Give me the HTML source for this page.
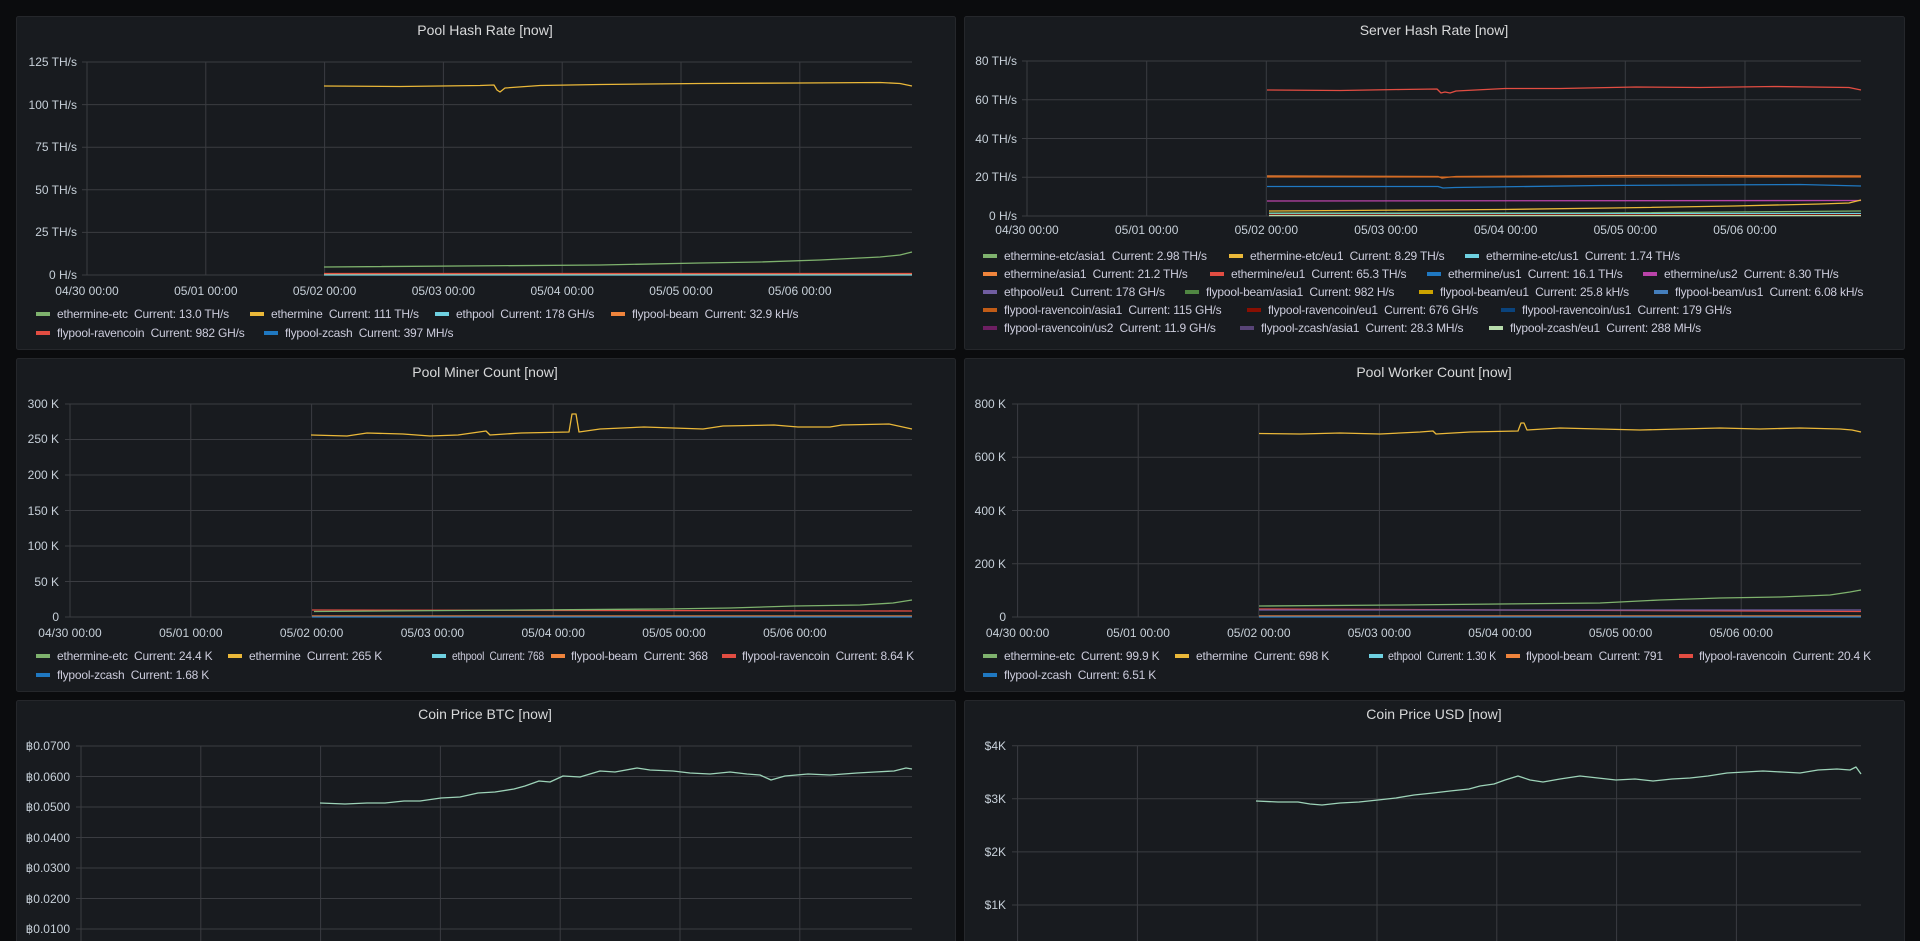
<!DOCTYPE html>
<html><head><meta charset="utf-8"><style>
html,body{margin:0;padding:0;background:#0b0c0e;width:1920px;height:941px;overflow:hidden}
svg{display:block;font-family:"Liberation Sans",Arial,sans-serif}
text{white-space:pre}
.t{fill:#d8d9da;font-size:14px;text-anchor:middle}
.ax{fill:#c7d0d9;font-size:12px}
.yl{text-anchor:end}
.xl{text-anchor:middle}
.lg{fill:#ccccdc;font-size:12px;letter-spacing:-0.2px}
.g{stroke:#3a3c41;stroke-width:1;fill:none}
.s{fill:none;stroke-width:1.3;stroke-linejoin:round}
</style></head><body>
<svg width="1920" height="941" viewBox="0 0 1920 941" xml:space="preserve">
<g fill="#181b1f" stroke="#25272b">
<rect x="16.5" y="16.5" width="939" height="333" rx="2"/>
<rect x="964.5" y="16.5" width="940" height="333" rx="2"/>
<rect x="16.5" y="358.5" width="939" height="333" rx="2"/>
<rect x="964.5" y="358.5" width="940" height="333" rx="2"/>
<rect x="16.5" y="700.5" width="939" height="260" rx="2"/>
<rect x="964.5" y="700.5" width="940" height="260" rx="2"/>
</g>
<text class="t" x="485" y="35">Pool Hash Rate [now]</text>
<text class="t" x="1434" y="35">Server Hash Rate [now]</text>
<text class="t" x="485" y="377">Pool Miner Count [now]</text>
<text class="t" x="1434" y="377">Pool Worker Count [now]</text>
<text class="t" x="485" y="719">Coin Price BTC [now]</text>
<text class="t" x="1434" y="719">Coin Price USD [now]</text>

<!-- Panel 1 -->
<g class="g">
<path d="M82 62H912M82 104.6H912M82 147.2H912M82 189.8H912M82 232.4H912M82 275H912"/>
<path d="M87 62V275M205.8 62V275M324.6 62V275M443.4 62V275M562.2 62V275M681 62V275M799.8 62V275"/>
</g>
<g class="ax yl">
<text x="77" y="66">125 TH/s</text><text x="77" y="109">100 TH/s</text><text x="77" y="151">75 TH/s</text>
<text x="77" y="194">50 TH/s</text><text x="77" y="236">25 TH/s</text><text x="77" y="279">0 H/s</text>
</g>
<g class="ax xl">
<text x="87" y="295">04/30 00:00</text><text x="205.8" y="295">05/01 00:00</text><text x="324.6" y="295">05/02 00:00</text>
<text x="443.4" y="295">05/03 00:00</text><text x="562.2" y="295">05/04 00:00</text><text x="681" y="295">05/05 00:00</text><text x="799.8" y="295">05/06 00:00</text>
</g>
<path class="s" stroke="#EAB839" d="M324 86L400 86.5L480 85.5L494 85L497 90L500 92L505 88L540 85.5L600 84.5L700 83.5L800 83L880 82.5L900 83.5L912 86"/>
<path class="s" stroke="#7EB26D" d="M324 267L600 265L700 263L760 262L820 260L880 257L900 255L912 252"/>
<path class="s" stroke="#E24D42" d="M324 273.5H912"/>
<path class="s" stroke="#EF843C" d="M324 274.5H912"/>
<path class="s" stroke="#6ED0E0" d="M324 275H912"/>
<g class="lg">
<rect x="36" y="312" width="14" height="4" fill="#7EB26D"/><text x="57" y="318">ethermine-etc  Current: 13.0 TH/s</text>
<rect x="250" y="312" width="14" height="4" fill="#EAB839"/><text x="271" y="318">ethermine  Current: 111 TH/s</text>
<rect x="435" y="312" width="14" height="4" fill="#6ED0E0"/><text x="456" y="318">ethpool  Current: 178 GH/s</text>
<rect x="611" y="312" width="14" height="4" fill="#EF843C"/><text x="632" y="318">flypool-beam  Current: 32.9 kH/s</text>
<rect x="36" y="331" width="14" height="4" fill="#E24D42"/><text x="57" y="337">flypool-ravencoin  Current: 982 GH/s</text>
<rect x="264" y="331" width="14" height="4" fill="#1F78C1"/><text x="285" y="337">flypool-zcash  Current: 397 MH/s</text>
</g>

<!-- Panel 2 -->
<g class="g">
<path d="M1022 61H1861M1022 99.75H1861M1022 138.5H1861M1022 177.25H1861M1022 216H1861"/>
<path d="M1027 61V216M1146.7 61V216M1266.3 61V216M1386 61V216M1505.7 61V216M1625.3 61V216M1745 61V216"/>
</g>
<g class="ax yl">
<text x="1017" y="65">80 TH/s</text><text x="1017" y="104">60 TH/s</text><text x="1017" y="143">40 TH/s</text>
<text x="1017" y="181">20 TH/s</text><text x="1017" y="220">0 H/s</text>
</g>
<g class="ax xl">
<text x="1027" y="234">04/30 00:00</text><text x="1146.7" y="234">05/01 00:00</text><text x="1266.3" y="234">05/02 00:00</text>
<text x="1386" y="234">05/03 00:00</text><text x="1505.7" y="234">05/04 00:00</text><text x="1625.3" y="234">05/05 00:00</text><text x="1745" y="234">05/06 00:00</text>
</g>
<path class="s" stroke="#E24D42" d="M1267 90L1340 90.5L1400 89.5L1437 89L1441 93L1445 92L1450 93L1456 91L1505 88.5L1560 88.5L1636 87L1700 87.5L1774 86.5L1849 87.5L1861 90"/>
<path class="s" stroke="#EF843C" d="M1267 176L1438 176.5L1442 178L1450 177L1456 176.5L1636 175.5L1861 176"/>
<path class="s" stroke="#C15C17" d="M1267 177L1861 177"/>
<path class="s" stroke="#1F78C1" d="M1267 186.5L1438 186.5L1443 188L1455 187.5L1600 185.5L1700 185L1800 184.5L1861 186"/>
<path class="s" stroke="#BA43A9" d="M1267 201L1861 200.5"/>
<path class="s" stroke="#EAB839" d="M1269 211L1500 209.5L1612 208L1734 206L1820 204L1849 203L1861 200"/>
<path class="s" stroke="#7EB26D" d="M1269 213L1600 213L1861 211"/>
<path class="s" stroke="#6ED0E0" d="M1269 214L1861 213.5"/>
<path class="s" stroke="#890F02" d="M1269 214.8L1861 214.8"/>
<path class="s" stroke="#B7DBAB" d="M1269 215.6L1861 215.6"/>
<g class="lg">
<rect x="983" y="254" width="14" height="4" fill="#7EB26D"/><text x="1004" y="260">ethermine-etc/asia1  Current: 2.98 TH/s</text>
<rect x="1229" y="254" width="14" height="4" fill="#EAB839"/><text x="1250" y="260">ethermine-etc/eu1  Current: 8.29 TH/s</text>
<rect x="1465" y="254" width="14" height="4" fill="#6ED0E0"/><text x="1486" y="260">ethermine-etc/us1  Current: 1.74 TH/s</text>
<rect x="983" y="272" width="14" height="4" fill="#EF843C"/><text x="1004" y="278">ethermine/asia1  Current: 21.2 TH/s</text>
<rect x="1210" y="272" width="14" height="4" fill="#E24D42"/><text x="1231" y="278">ethermine/eu1  Current: 65.3 TH/s</text>
<rect x="1427" y="272" width="14" height="4" fill="#1F78C1"/><text x="1448" y="278">ethermine/us1  Current: 16.1 TH/s</text>
<rect x="1643" y="272" width="14" height="4" fill="#BA43A9"/><text x="1664" y="278">ethermine/us2  Current: 8.30 TH/s</text>
<rect x="983" y="290" width="14" height="4" fill="#705DA0"/><text x="1004" y="296">ethpool/eu1  Current: 178 GH/s</text>
<rect x="1185" y="290" width="14" height="4" fill="#508642"/><text x="1206" y="296">flypool-beam/asia1  Current: 982 H/s</text>
<rect x="1419" y="290" width="14" height="4" fill="#CCA300"/><text x="1440" y="296">flypool-beam/eu1  Current: 25.8 kH/s</text>
<rect x="1654" y="290" width="14" height="4" fill="#447EBC"/><text x="1675" y="296">flypool-beam/us1  Current: 6.08 kH/s</text>
<rect x="983" y="308" width="14" height="4" fill="#C15C17"/><text x="1004" y="314">flypool-ravencoin/asia1  Current: 115 GH/s</text>
<rect x="1247" y="308" width="14" height="4" fill="#890F02"/><text x="1268" y="314">flypool-ravencoin/eu1  Current: 676 GH/s</text>
<rect x="1501" y="308" width="14" height="4" fill="#0A437C"/><text x="1522" y="314">flypool-ravencoin/us1  Current: 179 GH/s</text>
<rect x="983" y="326" width="14" height="4" fill="#6D1F62"/><text x="1004" y="332">flypool-ravencoin/us2  Current: 11.9 GH/s</text>
<rect x="1240" y="326" width="14" height="4" fill="#584477"/><text x="1261" y="332">flypool-zcash/asia1  Current: 28.3 MH/s</text>
<rect x="1489" y="326" width="14" height="4" fill="#B7DBAB"/><text x="1510" y="332">flypool-zcash/eu1  Current: 288 MH/s</text>
</g>

<!-- Panel 3 -->
<g class="g">
<path d="M65 404H912M65 439.5H912M65 475H912M65 510.5H912M65 546H912M65 581.5H912M65 617H912"/>
<path d="M70 404V617M190.8 404V617M311.6 404V617M432.4 404V617M553.2 404V617M674 404V617M794.8 404V617"/>
</g>
<g class="ax yl">
<text x="59" y="408">300 K</text><text x="59" y="443">250 K</text><text x="59" y="479">200 K</text>
<text x="59" y="515">150 K</text><text x="59" y="550">100 K</text><text x="59" y="586">50 K</text><text x="59" y="621">0</text>
</g>
<g class="ax xl">
<text x="70" y="637">04/30 00:00</text><text x="190.8" y="637">05/01 00:00</text><text x="311.6" y="637">05/02 00:00</text>
<text x="432.4" y="637">05/03 00:00</text><text x="553.2" y="637">05/04 00:00</text><text x="674" y="637">05/05 00:00</text><text x="794.8" y="637">05/06 00:00</text>
</g>
<path class="s" stroke="#EAB839" d="M311 435L347 436L367 433L403 434L430 436L458 435L486 431L490 435L521 433L569 432L572 414L576 414L579 432L600 429L644 427L703 429L723 426L774 425L798 427L830 427L842 425L889 424L912 429"/>
<path class="s" stroke="#E24D42" d="M312 610L912 611"/>
<path class="s" stroke="#7EB26D" d="M314 611.5L664 609L730 608L794 606L860 605L893 603L912 600"/>
<path class="s" stroke="#EF843C" d="M312 616L912 616"/>
<path class="s" stroke="#1F78C1" d="M312 617L912 617"/>
<g class="lg">
<rect x="36" y="654" width="14" height="4" fill="#7EB26D"/><text x="57" y="660">ethermine-etc  Current: 24.4 K</text>
<rect x="228" y="654" width="14" height="4" fill="#EAB839"/><text x="249" y="660">ethermine  Current: 265 K</text>
<rect x="432" y="654" width="14" height="4" fill="#6ED0E0"/><text x="452" y="660" textLength="92" lengthAdjust="spacingAndGlyphs">ethpool  Current: 768</text>
<rect x="551" y="654" width="14" height="4" fill="#EF843C"/><text x="571" y="660">flypool-beam  Current: 368</text>
<rect x="722" y="654" width="14" height="4" fill="#E24D42"/><text x="742" y="660">flypool-ravencoin  Current: 8.64 K</text>
<rect x="36" y="673" width="14" height="4" fill="#1F78C1"/><text x="57" y="679">flypool-zcash  Current: 1.68 K</text>
</g>

<!-- Panel 4 -->
<g class="g">
<path d="M1012 404H1861M1012 457.25H1861M1012 510.5H1861M1012 563.75H1861M1012 617H1861"/>
<path d="M1017.6 404V617M1138.2 404V617M1258.8 404V617M1379.4 404V617M1500 404V617M1620.6 404V617M1741.2 404V617"/>
</g>
<g class="ax yl">
<text x="1006" y="408">800 K</text><text x="1006" y="461">600 K</text><text x="1006" y="515">400 K</text>
<text x="1006" y="568">200 K</text><text x="1006" y="621">0</text>
</g>
<g class="ax xl">
<text x="1017.6" y="637">04/30 00:00</text><text x="1138.2" y="637">05/01 00:00</text><text x="1258.8" y="637">05/02 00:00</text>
<text x="1379.4" y="637">05/03 00:00</text><text x="1500" y="637">05/04 00:00</text><text x="1620.6" y="637">05/05 00:00</text><text x="1741.2" y="637">05/06 00:00</text>
</g>
<path class="s" stroke="#EAB839" d="M1259 433.5L1300 434L1340 433L1380 434L1420 432L1433 431L1436 434L1470 432L1518 431L1521 423L1524 423L1527 430L1560 428L1600 429L1640 430L1680 429L1720 428L1760 429L1800 428L1840 429L1852 430L1861 432"/>
<path class="s" stroke="#7EB26D" d="M1259 606L1400 605L1500 604L1600 603L1660 600L1720 598L1780 597L1830 595L1850 592L1861 590"/>
<path class="s" stroke="#E24D42" d="M1259 609L1861 611.5"/>
<path class="s" stroke="#705DA0" d="M1259 610L1861 610"/>
<path class="s" stroke="#EF843C" d="M1259 616L1861 616"/>
<path class="s" stroke="#1F78C1" d="M1259 617L1861 617"/>
<g class="lg">
<rect x="983" y="654" width="14" height="4" fill="#7EB26D"/><text x="1004" y="660">ethermine-etc  Current: 99.9 K</text>
<rect x="1175" y="654" width="14" height="4" fill="#EAB839"/><text x="1196" y="660">ethermine  Current: 698 K</text>
<rect x="1369" y="654" width="14" height="4" fill="#6ED0E0"/><text x="1388" y="660" textLength="108" lengthAdjust="spacingAndGlyphs">ethpool  Current: 1.30 K</text>
<rect x="1506" y="654" width="14" height="4" fill="#EF843C"/><text x="1526" y="660">flypool-beam  Current: 791</text>
<rect x="1679" y="654" width="14" height="4" fill="#E24D42"/><text x="1699" y="660">flypool-ravencoin  Current: 20.4 K</text>
<rect x="983" y="673" width="14" height="4" fill="#1F78C1"/><text x="1004" y="679">flypool-zcash  Current: 6.51 K</text>
</g>

<!-- Panel 5 -->
<g class="g">
<path d="M76 746H912M76 776.5H912M76 807H912M76 837.5H912M76 868H912M76 898.5H912M76 929H912"/>
<path d="M81 746V941M200.8 746V941M320.6 746V941M440.4 746V941M560.2 746V941M680 746V941M799.8 746V941"/>
</g>
<g class="ax yl">
<text x="70" y="750">฿0.0700</text><text x="70" y="781">฿0.0600</text><text x="70" y="811">฿0.0500</text>
<text x="70" y="842">฿0.0400</text><text x="70" y="872">฿0.0300</text><text x="70" y="903">฿0.0200</text><text x="70" y="933">฿0.0100</text>
</g>
<path class="s" stroke="#9dd3b8" d="M320 803L345 804L367 803L385 803L404 801L420 801L441 798L460 797L478 793L495 792L514 789L525 786L539 781L550 782L563 776L580 777L600 771L615 772L637 768L650 770L673 771L690 773L710 774L730 772L747 774L760 775L771 780L785 776L808 774L830 775L857 773L875 772L894 771L906 768L912 769"/>

<!-- Panel 6 -->
<g class="g">
<path d="M1012 745.7H1861M1012 798.8H1861M1012 851.9H1861M1012 905H1861"/>
<path d="M1017.6 745.7V941M1137.4 745.7V941M1257.2 745.7V941M1377 745.7V941M1496.8 745.7V941M1616.6 745.7V941M1736.4 745.7V941"/>
</g>
<g class="ax yl">
<text x="1006" y="750">$4K</text><text x="1006" y="803">$3K</text><text x="1006" y="856">$2K</text><text x="1006" y="909">$1K</text>
</g>
<path class="s" stroke="#9dd3b8" d="M1256 801L1278 802L1298 802L1310 804L1322 805L1340 803L1359 802L1378 800L1396 798L1414 795L1433 793L1450 791L1469 789L1480 786L1494 784L1505 780L1518 776L1530 780L1543 782L1560 779L1580 776L1598 778L1616 780L1635 779L1653 781L1672 779L1690 778L1708 776L1727 773L1745 772L1763 771L1782 772L1800 773L1818 770L1837 769L1850 770L1856 767L1861 774"/>
</svg>
</body></html>
